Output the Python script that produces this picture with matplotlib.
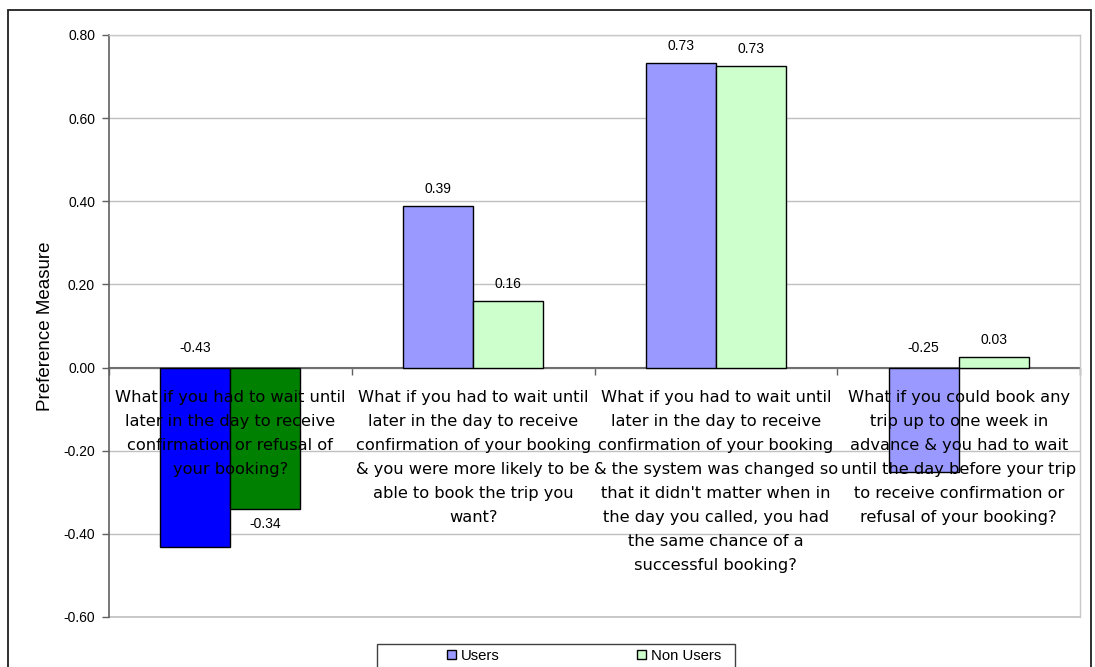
import matplotlib
matplotlib.use("Agg")
import matplotlib.pyplot as plt
from matplotlib.patches import Rectangle
from matplotlib.ticker import FixedLocator, FuncFormatter
import numpy as np

categories = [
    "What if you had to wait until\nlater in the day to receive\nconfirmation or refusal of\nyour booking?",
    "What if you had to wait until\nlater in the day to receive\nconfirmation of your booking\n& you were more likely to be\nable to book the trip you\nwant?",
    "What if you had to wait until\nlater in the day to receive\nconfirmation of your booking\n& the system was changed so\nthat it didn't matter when in\nthe day you called, you had\nthe same chance of a\nsuccessful booking?",
    "What if you could book any\ntrip up to one week in\nadvance & you had to wait\nuntil the day before your trip\nto receive confirmation or\nrefusal of your booking?",
]
users = [-0.431, 0.388, 0.733, -0.251]
non_users = [-0.341, 0.160, 0.726, 0.026]
series_names = ["Users", "Non Users"]
y_ticks = [-0.60, -0.40, -0.20, 0.00, 0.20, 0.40, 0.60, 0.80]

users_colors = ["#0000FF", "#9999FF", "#9999FF", "#9999FF"]
non_users_colors = ["#008000", "#CCFFCC", "#CCFFCC", "#CCFFCC"]

W, H, DPI = 1095, 667, 100
fig = plt.figure(figsize=(W / DPI, H / DPI), dpi=DPI)
fig.patch.set_facecolor("white")

# outer chart frame
fig.patches.append(Rectangle((8 / W, -0.05), (1091 - 8) / W, 1 - 10 / H + 0.05,
                             transform=fig.transFigure, fill=False,
                             edgecolor="#202020", linewidth=1.3, clip_on=False))

ax = fig.add_axes([109 / W, 1 - 617 / H, (1080 - 109) / W, (617 - 35) / H])
ax.set_xlim(-0.5, len(categories) - 0.5)
ax.set_ylim(-0.60, 0.80)
ax.set_axisbelow(True)

x = np.arange(len(categories))
bw = 0.288
b_users = ax.bar(x - bw / 2, users, bw, color=users_colors, edgecolor="black",
                 linewidth=1.0, zorder=2)
b_non = ax.bar(x + bw / 2, non_users, bw, color=non_users_colors, edgecolor="black",
               linewidth=1.0, zorder=2)

# axes styling
ax.yaxis.set_major_locator(FixedLocator(y_ticks))
ax.yaxis.set_major_formatter(FuncFormatter(lambda v, p: f"{v:.2f}"))
ax.grid(axis="y", color="#C0C0C0", linewidth=1.0)
ax.axhline(-0.60, color="#C0C0C0", linewidth=1.2, clip_on=False, zorder=0.5)
for s in ("top", "right"):
    ax.spines[s].set_color("#C8C8C8")
    ax.spines[s].set_linewidth(1.0)
ax.spines["left"].set_color("#606060")
ax.spines["left"].set_linewidth(1.2)
ax.spines["bottom"].set_position(("data", 0))
ax.spines["bottom"].set_color("#707070")
ax.spines["bottom"].set_linewidth(1.5)
ax.spines["bottom"].set_zorder(1.5)
ax.set_xticks(np.arange(len(categories) + 1) - 0.5)
ax.set_xticklabels([])
ax.tick_params(axis="x", direction="out", length=5, width=1.0, color="#606060")
ax.tick_params(axis="y", direction="out", length=5, width=1.0, color="#606060",
               labelsize=10, pad=5)
for t in ax.get_yticklabels():
    t.set_fontfamily("Liberation Sans")

ax.set_ylabel("Preference Measure", fontsize=13.5, fontfamily="Liberation Sans",
              labelpad=7)

# category labels, one line at a time below the zero line
line_step = 24
first_base = 34.7
for i, label in enumerate(categories):
    for k, line in enumerate(label.split("\n")):
        ax.annotate(line, xy=(i, 0), xytext=(0, -(first_base + k * line_step)),
                    textcoords="offset pixels", ha="center", va="baseline",
                    fontsize=11.7, fontfamily="DejaVu Sans", color="black",
                    zorder=4, annotation_clip=False)

# value labels
def place(v, where):
    if where == "top":
        return v, 17
    if where == "zero":
        return 0.0, 20
    return v, -15

label_style = {"fontsize": 10, "fontfamily": "Liberation Sans", "ha": "center",
               "va": "center", "zorder": 4}
users_pos = ["zero", "top", "top", "zero"]
non_pos = ["below", "top", "top", "top"]
for bars, vals, pos in ((b_users, users, users_pos), (b_non, non_users, non_pos)):
    for bar, v, p in zip(bars, vals, pos):
        yv, off = place(v, p)
        cx = bar.get_x() + bar.get_width() / 2
        ax.annotate(f"{v:.2f}", xy=(cx, yv), xytext=(0, off),
                    textcoords="offset pixels", **label_style)

# legend
handles = [Rectangle((0, 0), 1, 1, facecolor="#9999FF", edgecolor="black", linewidth=1.0),
           Rectangle((0, 0), 1, 1, facecolor="#CCFFCC", edgecolor="black", linewidth=1.0)]
leg = fig.legend(handles, series_names, loc="center left",
                 bbox_to_anchor=(447 / W, 1 - 656 / H), ncol=2, frameon=False,
                 borderpad=0, borderaxespad=0, handlelength=0.6, handleheight=0.6,
                 handletextpad=0.3, columnspacing=9.3,
                 prop={"family": "Liberation Sans", "size": 10.7})
fig.patches.append(Rectangle((377 / W, -0.05), (735 - 377) / W, 0.05 + 1 - 644 / H,
                             transform=fig.transFigure, fill=False,
                             edgecolor="#404040", linewidth=1.0, clip_on=False))

fig.savefig("out.png", dpi=DPI)
